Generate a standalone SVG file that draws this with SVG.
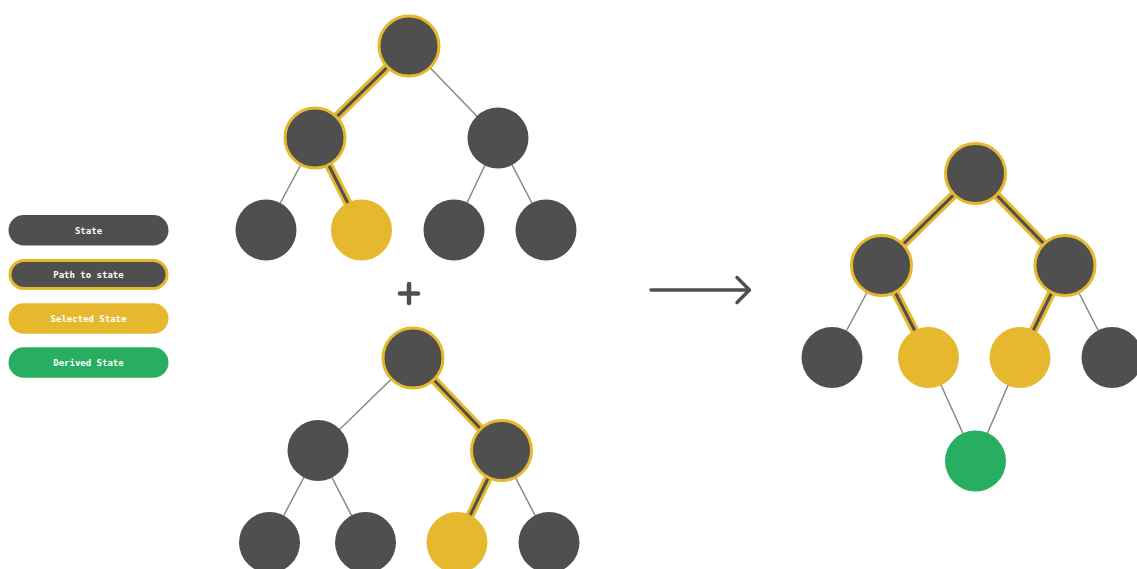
<svg xmlns="http://www.w3.org/2000/svg" width="1137" height="569" viewBox="0 0 1137 569">
  <defs>
    <style>
      .bg { fill: #ffffff; }
      .node { fill: #4f4f4f; }
      .sel { fill: #e5b82e; }
      .derived { fill: #27ae60; }
      .onpath { stroke: #e5b82e; stroke-width: 3; }
      .edge { stroke: #888888; stroke-width: 1.5; fill: none; }
      .path-outer { stroke: #e5b82e; stroke-width: 9; fill: none; }
      .path-inner { stroke: #4f4f4f; stroke-width: 3; fill: none; }
      .pill-text { fill: #ffffff; font-family: "DejaVu Sans Mono", "Liberation Mono", monospace; font-weight: bold; font-size: 9px; text-anchor: middle; dominant-baseline: central; }
      .symbol { stroke: #4f4f4f; fill: none; stroke-linecap: round; stroke-linejoin: round; }
    </style>
  </defs>

  <rect class="bg" x="0" y="0" width="1137" height="569"/>

  <!-- Legend -->
  <g id="legend">
    <g id="legend-state">
      <rect class="node" x="8.5" y="215" width="160" height="30.5" rx="15.25"/>
      <text class="pill-text" x="88.5" y="230.5">State</text>
    </g>
    <g id="legend-path">
      <rect class="node onpath" x="10" y="260.5" width="157" height="28" rx="14"/>
      <text class="pill-text" x="88.5" y="274.5">Path to state</text>
    </g>
    <g id="legend-selected">
      <rect class="sel" x="8.5" y="303.3" width="160" height="30.5" rx="15.25"/>
      <text class="pill-text" x="88.5" y="318.5">Selected State</text>
    </g>
    <g id="legend-derived">
      <rect class="derived" x="8.5" y="347.3" width="160" height="30.5" rx="15.25"/>
      <text class="pill-text" x="88.5" y="362.5">Derived State</text>
    </g>
  </g>

  <!-- Connectors -->
  <g id="connectors">
    <!-- first tree -->
    <line class="edge" x1="409" y1="46" x2="498" y2="138"/>
    <line class="edge" x1="315" y1="138" x2="266" y2="230"/>
    <line class="edge" x1="498" y1="138" x2="454" y2="230"/>
    <line class="edge" x1="498" y1="138" x2="546" y2="230"/>
    <line class="path-outer" x1="409" y1="46" x2="315" y2="138"/>
    <line class="path-inner" x1="409" y1="46" x2="315" y2="138"/>
    <line class="path-outer" x1="315" y1="138" x2="361.5" y2="230"/>
    <line class="path-inner" x1="315" y1="138" x2="361.5" y2="230"/>

    <!-- second tree -->
    <line class="edge" x1="413" y1="358" x2="318" y2="450.5"/>
    <line class="edge" x1="318" y1="450.5" x2="269.5" y2="542.5"/>
    <line class="edge" x1="318" y1="450.5" x2="365.5" y2="542.5"/>
    <line class="edge" x1="501.5" y1="450.5" x2="549" y2="542.5"/>
    <line class="path-outer" x1="413" y1="358" x2="501.5" y2="450.5"/>
    <line class="path-inner" x1="413" y1="358" x2="501.5" y2="450.5"/>
    <line class="path-outer" x1="501.5" y1="450.5" x2="457" y2="542.5"/>
    <line class="path-inner" x1="501.5" y1="450.5" x2="457" y2="542.5"/>

    <!-- merged tree -->
    <line class="edge" x1="881.5" y1="265.5" x2="832" y2="357.5"/>
    <line class="edge" x1="1065" y1="265.5" x2="1112" y2="357.5"/>
    <line class="edge" x1="928.5" y1="357.5" x2="975.5" y2="461"/>
    <line class="edge" x1="1020" y1="357.5" x2="975.5" y2="461"/>
    <line class="path-outer" x1="975.5" y1="173.5" x2="881.5" y2="265.5"/>
    <line class="path-inner" x1="975.5" y1="173.5" x2="881.5" y2="265.5"/>
    <line class="path-outer" x1="975.5" y1="173.5" x2="1065" y2="265.5"/>
    <line class="path-inner" x1="975.5" y1="173.5" x2="1065" y2="265.5"/>
    <line class="path-outer" x1="881.5" y1="265.5" x2="928.5" y2="357.5"/>
    <line class="path-inner" x1="881.5" y1="265.5" x2="928.5" y2="357.5"/>
    <line class="path-outer" x1="1065" y1="265.5" x2="1020" y2="357.5"/>
    <line class="path-inner" x1="1065" y1="265.5" x2="1020" y2="357.5"/>
  </g>

  <!-- First tree -->
  <g id="t1-root"><circle class="node onpath" cx="409" cy="46" r="30"/></g>
  <g id="t1-l"><circle class="node onpath" cx="315" cy="138" r="30"/></g>
  <g id="t1-r"><circle class="node" cx="498" cy="138" r="30.5"/></g>
  <g id="t1-ll"><circle class="node" cx="266" cy="230" r="30.5"/></g>
  <g id="t1-lr"><circle class="sel" cx="361.5" cy="230" r="30.5"/></g>
  <g id="t1-rl"><circle class="node" cx="454" cy="230" r="30.5"/></g>
  <g id="t1-rr"><circle class="node" cx="546" cy="230" r="30.5"/></g>

  <!-- Plus sign -->
  <g id="plus">
    <line class="symbol" x1="400" y1="293.5" x2="418" y2="293.5" stroke-width="4.5" stroke-linecap="butt"/>
    <line class="symbol" x1="409" y1="284" x2="409" y2="303" stroke-width="4.5" stroke-linecap="butt"/>
  </g>

  <!-- Second tree -->
  <g id="t2-root"><circle class="node onpath" cx="413" cy="358" r="30"/></g>
  <g id="t2-l"><circle class="node" cx="318" cy="450.5" r="30.5"/></g>
  <g id="t2-r"><circle class="node onpath" cx="501.5" cy="450.5" r="30"/></g>
  <g id="t2-ll"><circle class="node" cx="269.5" cy="542.5" r="30.5"/></g>
  <g id="t2-lr"><circle class="node" cx="365.5" cy="542.5" r="30.5"/></g>
  <g id="t2-rl"><circle class="sel" cx="457" cy="542.5" r="30.5"/></g>
  <g id="t2-rr"><circle class="node" cx="549" cy="542.5" r="30.5"/></g>

  <!-- Arrow -->
  <g id="arrow">
    <line class="symbol" x1="651" y1="290" x2="749" y2="290" stroke-width="3.5"/>
    <polyline class="symbol" points="737,277.5 749.5,290 737,302.5" stroke-width="3.5"/>
  </g>

  <!-- Merged tree -->
  <g id="t3-root"><circle class="node onpath" cx="975.5" cy="173.5" r="30"/></g>
  <g id="t3-l"><circle class="node onpath" cx="881.5" cy="265.5" r="30"/></g>
  <g id="t3-r"><circle class="node onpath" cx="1065" cy="265.5" r="30"/></g>
  <g id="t3-ll"><circle class="node" cx="832" cy="357.5" r="30.5"/></g>
  <g id="t3-lr"><circle class="sel" cx="928.5" cy="357.5" r="30.5"/></g>
  <g id="t3-rl"><circle class="sel" cx="1020" cy="357.5" r="30.5"/></g>
  <g id="t3-rr"><circle class="node" cx="1112" cy="357.5" r="30.5"/></g>
  <g id="t3-derived"><circle class="derived" cx="975.5" cy="461" r="30.5"/></g>
</svg>
